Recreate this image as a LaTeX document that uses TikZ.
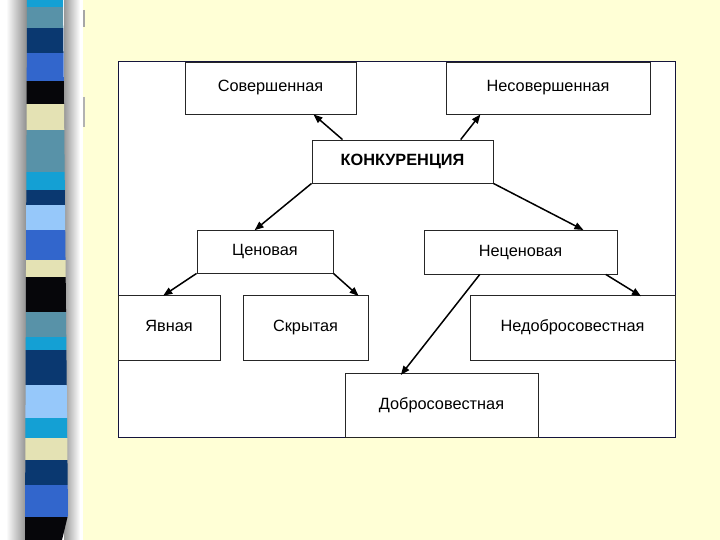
\documentclass[tikz,border=0pt]{standalone}
\usepackage{fontspec}
\setmainfont{Liberation Sans}
\usetikzlibrary{arrows.meta,calc}
\definecolor{bgyel}{RGB}{255,255,214}
\definecolor{scyan}{RGB}{20,160,212}
\definecolor{steal}{RGB}{88,146,168}
\definecolor{snavy}{RGB}{10,56,112}
\definecolor{sroyal}{RGB}{50,102,204}
\definecolor{sblack}{RGB}{6,6,10}
\definecolor{scream}{RGB}{228,226,180}
\definecolor{slight}{RGB}{150,200,250}
\definecolor{panelline}{RGB}{20,20,60}
\tikzset{
  box/.style={draw=black!85, line width=0.9pt, fill=white, inner sep=0pt, text height=11.5pt, text depth=3.5pt, font=\fontsize{16.3}{19}\selectfont},
  arr/.style={line width=1.5pt, -{Triangle[length=9pt,width=7pt]}},
}
\begin{document}
\begin{tikzpicture}[x=1pt,y=-1pt]
\useasboundingbox (0,0) rectangle (720,540);
\fill[bgyel] (0,0) rectangle (720,540);
% left decorative strip
\fill[white] (0,0) rectangle (83,540);
\shade[left color=white, right color=black!45] (6,0) rectangle (27,540);
\shade[left color=black!40, right color=white] (64,0) rectangle (80,540);
\begin{scope}
\clip (27,0) -- (63,0) -- (68,515) -- (62,540) -- (25,540) -- cycle;
\foreach \ya/\yb/\c in {0/7/scyan,7/28/steal,28/53/snavy,53/81/sroyal,81/104/sblack,104/130/scream,130/172/steal,172/190/scyan,190/205/snavy,205/230/slight,230/260/sroyal,260/277/scream,277/312/sblack,312/337/steal,337/350/scyan,350/385/snavy,385/418/slight,418/438/scyan,438/460/scream,460/485/snavy,485/517/sroyal,517/540/sblack}
  \fill[\c] (20,\ya) rectangle (70,\yb);
\end{scope}
\draw[black!35, line width=1.5pt] (84,10) -- (84,27);
\draw[black!30, line width=1.5pt] (84,97) -- (84,127);
% panel
\node[draw=panelline, line width=0.9pt, fill=white, inner sep=0pt, minimum width=557pt, minimum height=376pt] (panel) at (396.5,249) {};
% boxes
\node[box, minimum width=171pt, minimum height=52pt] (sov) at (270.5,88) {Совершенная};
\node[box, minimum width=204pt, minimum height=52pt] (nesov) at (548,88) {Несовершенная};
\node[box, minimum width=181pt, minimum height=43pt, font=\fontsize{16.3}{19}\selectfont\bfseries] (konk) at (402.5,161.5) {КОНКУРЕНЦИЯ};
\node[box, minimum width=136pt, minimum height=43pt] (cen) at (265,251.5) {Ценовая};
\node[box, minimum width=193pt, minimum height=44pt] (necen) at (520.5,252) {Неценовая};
\node[box, minimum width=102pt, minimum height=65pt] (yav) at (169,327.5) {Явная};
\node[box, minimum width=125pt, minimum height=65pt] (skr) at (305.5,327.5) {Скрытая};
\node[box, minimum width=205pt, minimum height=65pt] (nedob) at (572.5,327.5) {Недобросовестная};
\node[box, minimum width=193pt, minimum height=64pt] (dob) at (441.5,405) {Добросовестная};
% arrows
\draw[arr] ($(konk.north west)!0.17!(konk.north east)$) -- ($(sov.south west)!0.75!(sov.south east)$);
\draw[arr] ($(konk.north west)!0.82!(konk.north east)$) -- ($(nesov.south west)!0.17!(nesov.south east)$);
\draw[arr, shorten >=-1pt] (konk.south west) -- ($(cen.north west)!0.43!(cen.north east)$);
\draw[arr, shorten >=-1pt] (konk.south east) -- ($(necen.north west)!0.82!(necen.north east)$);
\draw[arr, shorten >=-2pt] (cen.south west) -- ($(yav.north west)!0.46!(yav.north east)$);
\draw[arr, shorten >=-2pt] (cen.south east) -- ($(skr.north west)!0.91!(skr.north east)$);
\draw[arr, shorten >=-3pt] ($(necen.south west)!0.29!(necen.south east)$) -- ($(dob.north west)!0.30!(dob.north east)$);
\draw[arr, shorten >=-3pt] ($(necen.south west)!0.94!(necen.south east)$) -- ($(nedob.north west)!0.82!(nedob.north east)$);
\end{tikzpicture}
\end{document}
